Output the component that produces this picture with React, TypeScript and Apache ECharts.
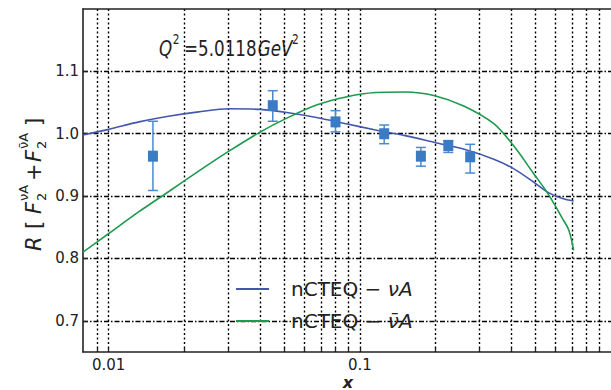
import React, { useEffect, useRef } from "react";
import * as echarts from "echarts";

// ---- data ----
const curveVAX = [0.0079, 0.01, 0.0132, 0.0173, 0.0228, 0.0301, 0.0402, 0.0512, 0.0672, 0.0881, 0.1155, 0.1515, 0.1986, 0.2604, 0.3415, 0.409, 0.49, 0.561, 0.641, 0.71];
const curveVAY = [0.998, 1.007, 1.019, 1.028, 1.035, 1.04, 1.039, 1.034, 1.026, 1.016, 1.006, 0.997, 0.986, 0.975, 0.959, 0.944, 0.923, 0.906, 0.896, 0.892];
const curveVbarX = [0.0079, 0.01, 0.0132, 0.0173, 0.0228, 0.0301, 0.0402, 0.0512, 0.0672, 0.0881, 0.1155, 0.1515, 0.1986, 0.2604, 0.3415, 0.409, 0.49, 0.561, 0.641, 0.68, 0.71];
const curveVbarY = [0.81, 0.84, 0.875, 0.907, 0.94, 0.972, 1.003, 1.025, 1.046, 1.059, 1.066, 1.067, 1.061, 1.044, 1.016, 0.981, 0.937, 0.904, 0.864, 0.845, 0.813];

const pointX = [0.015, 0.045, 0.08, 0.125, 0.175, 0.225, 0.275];
const pointY = [0.964, 1.045, 1.019, 1.0, 0.964, 0.981, 0.963];
const pointLow = [0.909, 1.02, 1.003, 0.984, 0.948, 0.97, 0.937];
const pointHigh = [1.02, 1.069, 1.037, 1.014, 0.978, 0.989, 0.983];

const xLabelTicks = [0.01, 0.1];
const xGridTicks = [0.009, 0.01, 0.02, 0.03, 0.04, 0.05, 0.06, 0.07, 0.08, 0.09, 0.1, 0.2, 0.3, 0.4, 0.5, 0.6, 0.7, 0.8, 0.9];
const yTicks = [0.7, 0.8, 0.9, 1.0, 1.1];
const seriesNames = ["nCTEQ − νA", "nCTEQ − ν̄A"];

const X_MIN = 0.0079;
const X_MAX = 1.0;
const Y_MIN = 0.65;
const Y_MAX = 1.2;

const FONT = "DejaVu Sans";
const TXT = "#222";
const BLUE = "#4357ad";
const GREEN = "#1c9a4e";
const PT = "#3a7bc4";
const ERR = "#4b8ad0";

const lg = (v: number) => Math.log10(v);

export default function App() {
  const ref = useRef<HTMLDivElement>(null);
  useEffect(() => {
    if (!ref.current) return;
    const chart = echarts.init(ref.current, undefined, { renderer: "svg" });

    const option: any = {
      animation: false,
      backgroundColor: "#fff",
      grid: { left: 83, right: -8, top: 9, bottom: 38, containLabel: false },
      xAxis: [
        {
          type: "value",
          min: lg(X_MIN),
          max: lg(X_MAX),
          axisLine: { show: true, onZero: false, lineStyle: { color: TXT, width: 1.6 } },
          axisTick: {
            show: true,
            inside: true,
            length: 4,
            customValues: xGridTicks.map(lg),
            lineStyle: { color: TXT, width: 1.3 },
          },
          axisLabel: {
            customValues: xLabelTicks.map(lg),
            formatter: (v: number) => String(parseFloat(Math.pow(10, v).toPrecision(3))),
            fontFamily: FONT,
            fontSize: 15,
            lineHeight: 14,
            color: TXT,
            margin: 6,
          },
          splitLine: { show: true, lineStyle: { color: "#000", type: [2, 2.5], width: 1.4 } },
        },
        {
          type: "value",
          position: "top",
          min: lg(X_MIN),
          max: lg(X_MAX),
          axisLine: { show: true, onZero: false, lineStyle: { color: TXT, width: 1.6 } },
          axisTick: { show: false },
          axisLabel: { show: false },
          splitLine: { show: false },
        },
      ],
      yAxis: {
        type: "value",
        min: Y_MIN,
        max: Y_MAX,
        axisLine: { show: true, onZero: false, lineStyle: { color: TXT, width: 1.6 } },
        axisTick: { show: true, inside: true, length: 5, customValues: yTicks, lineStyle: { color: TXT, width: 1.3 } },
        axisLabel: {
          customValues: yTicks,
          formatter: (v: number) => v.toFixed(1),
          fontFamily: FONT,
          fontSize: 15,
          color: TXT,
          margin: 4,
        },
        splitLine: { show: true, lineStyle: { color: "#000", type: [5, 2, 1.5, 2], width: 1.3 } },
      },
      legend: {
        orient: "vertical",
        left: 236,
        top: 279,
        padding: 0,
        itemWidth: 33,
        itemHeight: 2,
        itemGap: 12,
        icon: "rect",
        data: seriesNames,
        formatter: (name: string) =>
          name === seriesNames[0] ? "{a|nCTEQ − }{b|νA}" : "{a|nCTEQ − }{b|ν̄A}",
        textStyle: {
          rich: {
            a: { fontFamily: FONT, fontSize: 20, color: TXT, lineHeight: 24, padding: [0, 0, 0, 17] },
            b: { fontFamily: FONT, fontSize: 20, fontStyle: "italic", color: TXT, lineHeight: 24 },
          },
        },
      },
      series: [
        {
          name: seriesNames[0],
          type: "line",
          data: curveVAX.map((x, i) => [lg(x), curveVAY[i]]),
          symbol: "none",
          smooth: 0.3,
          lineStyle: { color: BLUE, width: 1.6 },
          itemStyle: { color: BLUE },
          z: 3,
        },
        {
          name: seriesNames[1],
          type: "line",
          data: curveVbarX.map((x, i) => [lg(x), curveVbarY[i]]),
          symbol: "none",
          smooth: 0.3,
          lineStyle: { color: GREEN, width: 1.6 },
          itemStyle: { color: GREEN },
          z: 3,
        },
        {
          name: "errors",
          type: "custom",
          data: pointX.map((x, i) => [lg(x), pointLow[i], pointHigh[i]]),
          encode: { x: 0, y: [1, 2] },
          renderItem: (params: any, api: any) => {
            const x = api.value(0);
            const pl = api.coord([x, api.value(1)]);
            const ph = api.coord([x, api.value(2)]);
            const w = 5;
            const style = { stroke: ERR, lineWidth: 1.5 };
            return {
              type: "group",
              children: [
                { type: "line", shape: { x1: pl[0], y1: pl[1], x2: ph[0], y2: ph[1] }, style },
                { type: "line", shape: { x1: pl[0] - w, y1: pl[1], x2: pl[0] + w, y2: pl[1] }, style },
                { type: "line", shape: { x1: ph[0] - w, y1: ph[1], x2: ph[0] + w, y2: ph[1] }, style },
              ],
            };
          },
          z: 4,
        },
        {
          name: "data",
          type: "scatter",
          data: pointX.map((x, i) => [lg(x), pointY[i]]),
          symbol: "rect",
          symbolSize: [10, 11],
          itemStyle: { color: PT, opacity: 1 },
          z: 5,
        },
      ],
      graphic: [
        // title
        {
          type: "group",
          x: 159,
          y: 49,
          scaleX: 0.76,
          children: [
            { type: "text", x: 0, y: 0, style: { text: "Q", fontFamily: FONT, fontSize: 22, fontStyle: "italic", fill: TXT, verticalAlign: "middle" } },
            { type: "text", x: 18, y: -10, style: { text: "2", fontFamily: FONT, fontSize: 14, fill: TXT, verticalAlign: "middle" } },
            { type: "text", x: 33, y: 0, style: { text: "=5.0118", fontFamily: FONT, fontSize: 22, fill: TXT, verticalAlign: "middle" } },
            { type: "text", x: 130, y: 0, style: { text: "GeV", fontFamily: FONT, fontSize: 22, fontStyle: "italic", fill: TXT, verticalAlign: "middle" } },
            { type: "text", x: 175, y: -10, style: { text: "2", fontFamily: FONT, fontSize: 14, fill: TXT, verticalAlign: "middle" } },
          ],
        },
        // y axis title
        {
          type: "group",
          x: 34,
          y: 251,
          rotation: Math.PI / 2,
          children: [
            { type: "text", x: 0, y: 0, style: { text: "R", fontFamily: FONT, fontSize: 21, fontStyle: "italic", fill: TXT, verticalAlign: "middle" } },
            { type: "text", x: 22, y: 0, style: { text: "[", fontFamily: FONT, fontSize: 21, fill: TXT, verticalAlign: "middle" } },
            { type: "text", x: 37, y: 0, style: { text: "F", fontFamily: FONT, fontSize: 21, fontStyle: "italic", fill: TXT, verticalAlign: "middle" } },
            { type: "text", x: 50, y: 7, style: { text: "2", fontFamily: FONT, fontSize: 13, fill: TXT, verticalAlign: "middle" } },
            { type: "text", x: 50, y: -11, style: { text: "νA", fontFamily: FONT, fontSize: 13, fill: TXT, verticalAlign: "middle" } },
            { type: "text", x: 70, y: 0, style: { text: "+", fontFamily: FONT, fontSize: 21, fill: TXT, verticalAlign: "middle" } },
            { type: "text", x: 89, y: 0, style: { text: "F", fontFamily: FONT, fontSize: 21, fontStyle: "italic", fill: TXT, verticalAlign: "middle" } },
            { type: "text", x: 102, y: 7, style: { text: "2", fontFamily: FONT, fontSize: 13, fill: TXT, verticalAlign: "middle" } },
            { type: "text", x: 102, y: -11, style: { text: "ν̄A", fontFamily: FONT, fontSize: 13, fill: TXT, verticalAlign: "middle" } },
            { type: "text", x: 125, y: 0, style: { text: "]", fontFamily: FONT, fontSize: 21, fill: TXT, verticalAlign: "middle" } },
          ],
        },
        // x axis title
        {
          type: "text",
          x: 348,
          y: 382,
          style: { text: "x", fontFamily: FONT, fontSize: 16, fontStyle: "italic", fontWeight: "bold", fill: TXT, align: "center", verticalAlign: "middle" },
        },
      ],
    };

    chart.setOption(option);
    return () => chart.dispose();
  }, []);

  return (
    <div
      ref={ref}
      style={{ position: "fixed", left: 0, top: 0, width: 611, height: 390, background: "#fff" }}
    />
  );
}
